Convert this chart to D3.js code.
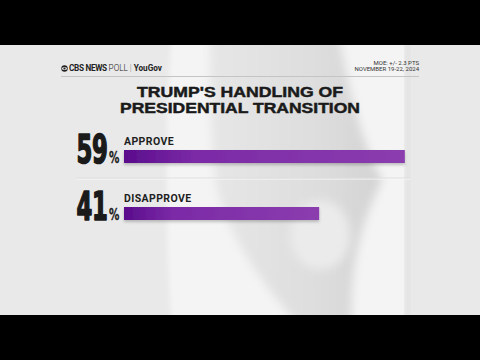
<!DOCTYPE html>
<html>
<head>
<meta charset="utf-8">
<script src="https://cdn.jsdelivr.net/npm/d3@7"></script>
<style>
html,body{margin:0;padding:0;background:#000;}
svg{display:block;}
</style>
</head>
<body>
<svg id="chart" width="480" height="360"></svg>
<script>
// ---- data ----
const categories = ["APPROVE", "DISAPPROVE"];
const values = [59, 41];
const titleLines = ["TRUMP'S HANDLING OF", "PRESIDENTIAL TRANSITION"];
const moeLines = ["MOE: +/- 2.3 PTS", "NOVEMBER 19-22, 2024"];

const svg = d3.select("#chart");
const defs = svg.append("defs");

// gradients / filters
const inner = defs.append("linearGradient").attr("id", "innerShade")
  .attr("x1", "0").attr("x2", "1").attr("y1", "0").attr("y2", "0");
inner.append("stop").attr("offset", "0").attr("stop-color", "#e6e6e6");
inner.append("stop").attr("offset", "0.6").attr("stop-color", "#dedede");
inner.append("stop").attr("offset", "1").attr("stop-color", "#d3d3d3");

const barGrad = defs.append("linearGradient").attr("id", "barGrad")
  .attr("x1", "0").attr("x2", "1").attr("y1", "0").attr("y2", "0");
barGrad.append("stop").attr("offset", "0").attr("stop-color", "#5a0c8c");
barGrad.append("stop").attr("offset", "0.25").attr("stop-color", "#7b2aa6");
barGrad.append("stop").attr("offset", "1").attr("stop-color", "#8b3dae");

const mkBlur = (id, s) => defs.append("filter").attr("id", id).attr("x", "-20%").attr("y", "-20%")
  .attr("width", "140%").attr("height", "140%")
  .append("feGaussianBlur").attr("stdDeviation", s);
mkBlur("blur", 5);
mkBlur("blurS", 2.5);

const sh = defs.append("filter").attr("id", "shadow").attr("x", "-5%").attr("y", "-50%")
  .attr("width", "110%").attr("height", "220%");
sh.append("feDropShadow").attr("dx", 0).attr("dy", 2).attr("stdDeviation", 1.5)
  .attr("flood-color", "#000").attr("flood-opacity", 0.22);

defs.append("clipPath").attr("id", "panelClip").append("rect")
  .attr("x", 0).attr("y", 45).attr("width", 480).attr("height", 270);

// ---- background ----
svg.append("rect").attr("x", 0).attr("y", 0).attr("width", 480).attr("height", 360).attr("fill", "#000");
svg.append("rect").attr("x", 0).attr("y", 45).attr("width", 480).attr("height", 270).attr("fill", "#e9e9e9");
const deco = svg.append("g").attr("clip-path", "url(#panelClip)");
// white ring
deco.append("path")
  .attr("d", "M172,30 C164,140 166,250 172,330 L407,330 L407,30 Z")
  .attr("fill", "#f4f4f4").attr("filter", "url(#blurS)");
// soft right edge
deco.append("rect").attr("x", 405).attr("y", 30).attr("width", 5).attr("height", 300)
  .attr("fill", "#e0e0e0").attr("filter", "url(#blurS)");
// inner gray arrow shape
deco.append("path")
  .attr("d", "M210,30 L338,30 C350,100 365,150 382,180 C362,220 348,270 352,330 L302,330 C260,280 222,230 215,175 C210,120 210,80 210,30 Z")
  .attr("fill", "url(#innerShade)").attr("filter", "url(#blur)");
// lighter patch below arrow
deco.append("ellipse").attr("cx", 320).attr("cy", 235).attr("rx", 30).attr("ry", 35)
  .attr("fill", "#ebebeb").attr("filter", "url(#blur)");

// ---- header ----
const header = svg.append("g");
header.append("circle").attr("cx", 64.5).attr("cy", 68.5).attr("r", 3.2).attr("fill", "#222");
header.append("ellipse").attr("cx", 64.5).attr("cy", 68.5).attr("rx", 2.6).attr("ry", 1.5).attr("fill", "#e9e9e9");
header.append("circle").attr("cx", 64.5).attr("cy", 68.5).attr("r", 1.1).attr("fill", "#222");
const ht = header.append("text").attr("x", 69).attr("y", 71.3)
  .attr("font-family", "Roboto, 'Liberation Sans', sans-serif").attr("font-size", 8.2).attr("fill", "#222");
ht.append("tspan").attr("font-weight", 700).attr("letter-spacing", -0.3).text("CBS NEWS ");
ht.append("tspan").attr("font-weight", 300).text("POLL ");
ht.append("tspan").attr("font-weight", 300).attr("fill", "#888").text("| ");
ht.append("tspan").attr("font-weight", 700).text("YouGov");

header.selectAll("text.moe").data(moeLines).join("text").attr("class", "moe")
  .attr("x", 419).attr("y", (d, i) => 64.5 + i * 6.8)
  .attr("text-anchor", "end")
  .attr("font-family", "Roboto, 'Liberation Sans', sans-serif").attr("font-size", 6)
  .attr("fill", "#333").text(d => d);

header.append("line").attr("x1", 61).attr("x2", 419).attr("y1", 76.5).attr("y2", 76.5)
  .attr("stroke", "#c4c4c4").attr("stroke-width", 1.2);

// ---- title ----
const titleWidths = [206, 240];
svg.selectAll("text.title").data(titleLines).join("text").attr("class", "title")
  .attr("x", 240).attr("y", (d, i) => 97.3 + i * 16)
  .attr("text-anchor", "middle")
  .attr("font-family", "'Liberation Sans', Arial, sans-serif").attr("font-weight", 700)
  .attr("font-size", 14.3).attr("fill", "#1a1a1a")
  .attr("stroke", "#1a1a1a").attr("stroke-width", 0.45)
  .attr("textLength", (d, i) => titleWidths[i]).attr("lengthAdjust", "spacingAndGlyphs")
  .text(d => d);

// ---- bars ----
const x = d3.scaleLinear().domain([0, 100]).range([124, 600]);
const y = d3.scaleBand().domain(categories).range([150, 264]);
const barH = 13;

// separator
svg.append("line").attr("x1", 76).attr("x2", 410).attr("y1", 179).attr("y2", 179)
  .attr("stroke", "#f7f7f7").attr("stroke-width", 1);
svg.append("line").attr("x1", 76).attr("x2", 410).attr("y1", 178).attr("y2", 178)
  .attr("stroke", "#dadada").attr("stroke-width", 0.8);

const rows = svg.selectAll("g.row").data(categories).join("g").attr("class", "row");

rows.append("rect")
  .attr("x", x(0)).attr("y", d => y(d))
  .attr("width", (d, i) => x(values[i]) - x(0)).attr("height", barH)
  .attr("fill", "url(#barGrad)").attr("filter", "url(#shadow)");

rows.append("text")
  .attr("x", x(0)).attr("y", d => y(d) - 5)
  .attr("font-family", "Roboto, 'Open Sans', sans-serif").attr("font-weight", 700)
  .attr("font-size", 10.5).attr("letter-spacing", 0.4).attr("fill", "#1e1e1e")
  .text(d => d);

// big numbers: condensed by a horizontal scale measured from "59" → 32px wide
const numFont = "'Liberation Sans Narrow', 'DejaVu Sans Condensed', 'Liberation Sans', sans-serif";
const numG = rows.append("g").attr("class", "num");
const numT = numG.append("text")
  .attr("font-family", numFont)
  .attr("font-weight", 700).attr("font-size", 39).attr("fill", "#1a1a1a")
  .attr("stroke", "#1a1a1a").attr("stroke-width", 1.6).attr("stroke-linejoin", "round")
  .attr("letter-spacing", -0.5)
  .text((d, i) => values[i]);
const w0 = numT.nodes()[0].getComputedTextLength();
const k = 31 / w0;
numT.attr("transform", d => `translate(76.5,${y(d) + barH}) scale(${k},1)`);
numG.append("text")
  .attr("font-family", numFont)
  .attr("font-weight", 700).attr("font-size", 16).attr("fill", "#1a1a1a")
  .attr("stroke", "#1a1a1a").attr("stroke-width", 0.3)
  .attr("transform", (d, i) => {
    const px = 76.5 + numT.nodes()[i].getComputedTextLength() * k + 1.5;
    return `translate(${px},${y(d) + barH}) scale(0.72,1)`;
  })
  .text("%");
</script>
</body>
</html>
